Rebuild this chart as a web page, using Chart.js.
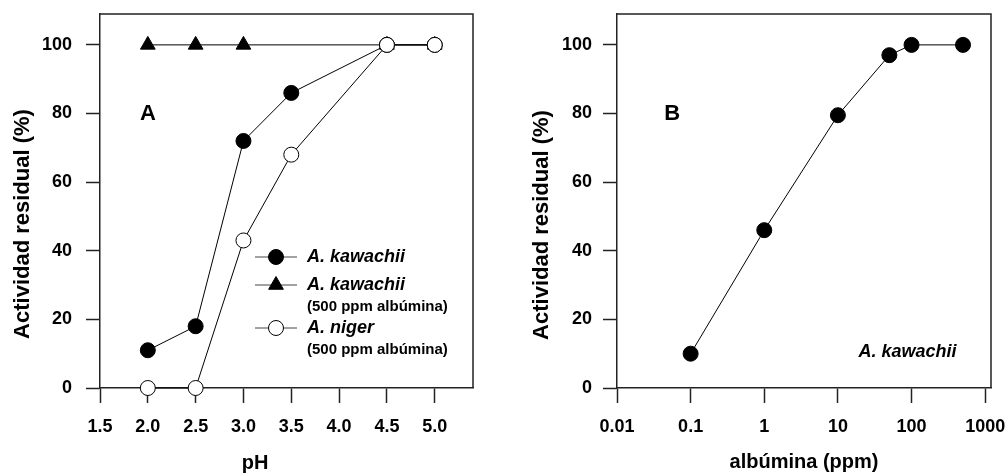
<!DOCTYPE html>
<html>
<head>
<meta charset="utf-8">
<script src="https://cdn.jsdelivr.net/npm/chart.js@4.4.0/dist/chart.umd.min.js"></script>
<style>
html, body { margin: 0; padding: 0; background: #fff; }
#panelA { position: absolute; left: 0; top: 0; width: 495px; height: 475px; }
#panelB { position: absolute; left: 500px; top: 0; width: 507px; height: 475px; }
</style>
</head>
<body>
<div id="panelA"><canvas id="graficoPH"></canvas></div>
<div id="panelB"><canvas id="graficoAlb"></canvas></div>
<script>
// ticks
const phTicks = [1.5, 2.0, 2.5, 3.0, 3.5, 4.0, 4.5, 5.0];
const albTicks = [0.01, 0.1, 1, 10, 100, 1000];
const actTicks = [0, 20, 40, 60, 80, 100];

// panel A: actividad residual vs pH
const phKawachii = [2.0, 2.5, 3.0, 3.5, 4.5, 5.0];
const actKawachii = [11, 18, 72, 86, 100, 100];
const phKawachiiAlb = [2.0, 2.5, 3.0, 4.5, 5.0];
const actKawachiiAlb = [100, 100, 100, 100, 100];
const phNiger = [2.0, 2.5, 3.0, 3.5, 4.5, 5.0];
const actNiger = [0, 0, 43, 68, 100, 100];

// panel B: actividad residual vs albúmina
const albumina = [0.1, 1, 10, 50, 100, 500];
const actAlbumina = [10, 46, 79.5, 97, 100, 100];

const FUENTE = "'Liberation Sans', Arial, sans-serif";
const NEGRO = '#000';
const EJE = '#222';

function puntos(xs, ys) {
    return xs.map((x, i) => ({ x: x, y: ys[i] }));
}

function serie(label, data, estilo, relleno, orden) {
    return {
        label: label,
        data: data,
        showLine: true,
        borderColor: NEGRO,
        borderWidth: 1,
        pointStyle: estilo,
        pointRadius: estilo === 'triangle' ? 8.5 : 7.5,
        pointHoverRadius: estilo === 'triangle' ? 8.5 : 7.5,
        pointBackgroundColor: relleno,
        pointBorderColor: NEGRO,
        pointBorderWidth: 1,
        clip: false,
        order: orden
    };
}

function ejeY(ancho, sep) {
    return {
        min: 0,
        max: 109,
        afterBuildTicks: s => { s.ticks = actTicks.map(v => ({ value: v })); },
        afterFit: s => { s.width = ancho; s.paddingTop = 0; s.paddingBottom = 0; },
        grid: { drawOnChartArea: false, drawTicks: true, tickLength: 14, tickColor: EJE, tickWidth: 1.5 },
        border: { color: EJE, width: 1.5 },
        ticks: { color: NEGRO, padding: sep, font: { family: FUENTE, size: 18, weight: 'bold' } }
    };
}

function ejeX(extra) {
    return Object.assign({
        afterFit: s => { s.height = 87; s.paddingLeft = 0; s.paddingRight = 0; },
        grid: { drawOnChartArea: false, drawTicks: true, tickLength: 15, tickColor: EJE, tickWidth: 1.5 },
        border: { color: EJE, width: 1.5 },
        ticks: { color: NEGRO, padding: 13, maxRotation: 0, font: { family: FUENTE, size: 18, weight: 'bold' } }
    }, extra);
}

// top and right frame lines
const marco = {
    id: 'marco',
    beforeDatasetsDraw(chart) {
        const a = chart.chartArea, ctx = chart.ctx;
        ctx.save();
        ctx.strokeStyle = EJE;
        ctx.lineWidth = 1.5;
        ctx.beginPath();
        ctx.moveTo(a.left, a.top);
        ctx.lineTo(a.right, a.top);
        ctx.lineTo(a.right, a.bottom);
        ctx.stroke();
        ctx.restore();
    }
};

function texto(ctx, t, x, y, tam, estilo, alinear, base) {
    ctx.font = estilo + ' ' + tam + 'px ' + FUENTE;
    ctx.textAlign = alinear || 'center';
    ctx.textBaseline = base || 'middle';
    ctx.fillStyle = NEGRO;
    ctx.fillText(t, x, y);
}

// axis titles, placed by hand
const titulos = {
    id: 'titulos',
    afterDraw(chart, args, opts) {
        const ctx = chart.ctx;
        ctx.save();
        texto(ctx, opts.x, opts.xPos[0], opts.xPos[1], 20, 'bold', 'center', 'alphabetic');
        ctx.translate(opts.yPos[0], opts.yPos[1]);
        ctx.rotate(-Math.PI / 2);
        texto(ctx, 'Actividad residual (%)', 0, 0, 22, 'bold', 'center', 'middle');
        ctx.restore();
    }
};

// panel letter + legend for panel A
const leyendaA = {
    id: 'leyendaA',
    afterDraw(chart) {
        const ctx = chart.ctx, sx = chart.scales.x, sy = chart.scales.y;
        ctx.save();
        texto(ctx, 'A', sx.getPixelForValue(2.0), sy.getPixelForValue(80), 22, 'bold');
        const x0 = 255, x1 = 297, xm = 276, xt = 307;
        const filas = [
            { y: 257, ds: 0, sub: null },
            { y: 285, ds: 1, sub: 307 },
            { y: 328, ds: 2, sub: 350 }
        ];
        filas.forEach(f => {
            const d = chart.data.datasets[f.ds];
            ctx.strokeStyle = '#444';
            ctx.lineWidth = 1;
            ctx.beginPath();
            ctx.moveTo(x0, f.y);
            ctx.lineTo(x1, f.y);
            ctx.stroke();
            ctx.fillStyle = d.pointBackgroundColor;
            ctx.strokeStyle = NEGRO;
            Chart.helpers.drawPoint(ctx, { pointStyle: d.pointStyle, radius: d.pointRadius, borderWidth: 1 }, xm, f.y);
            texto(ctx, d.label, xt, f.y, 18, 'italic bold', 'left');
            if (f.sub) texto(ctx, '(500 ppm albúmina)', xt, f.sub, 15, 'bold', 'left');
        });
        ctx.restore();
    }
};

const rotulosB = {
    id: 'rotulosB',
    afterDraw(chart) {
        const ctx = chart.ctx, sx = chart.scales.x, sy = chart.scales.y;
        ctx.save();
        texto(ctx, 'B', sx.getPixelForValue(0.056), sy.getPixelForValue(80), 22, 'bold');
        texto(ctx, 'A. kawachii', sx.getPixelForValue(88), sy.getPixelForValue(10.5), 18, 'italic bold');
        ctx.restore();
    }
};

new Chart(document.getElementById('graficoPH'), {
    type: 'scatter',
    data: {
        datasets: [
            serie('A. kawachii', puntos(phKawachii, actKawachii), 'circle', NEGRO, 1),
            serie('A. kawachii', puntos(phKawachiiAlb, actKawachiiAlb), 'triangle', NEGRO, 2),
            serie('A. niger', puntos(phNiger, actNiger), 'circle', '#fff', 0)
        ]
    },
    options: {
        responsive: true,
        maintainAspectRatio: false,
        animation: false,
        layout: { padding: { top: 14, right: 22, left: 0, bottom: 0 } },
        plugins: {
            legend: { display: false },
            tooltip: { enabled: false },
            titulos: { x: 'pH', xPos: [255, 469], yPos: [23, 224] }
        },
        scales: {
            x: ejeX({
                type: 'linear', min: 1.5, max: 5.4,
                afterBuildTicks: s => { s.ticks = phTicks.map(v => ({ value: v })); }
            }),
            y: ejeY(100, 14)
        }
    },
    plugins: [marco, titulos, leyendaA]
});

const ejeAlb = ejeX({
    type: 'logarithmic', min: 0.01, max: 1200,
    afterBuildTicks: s => { s.ticks = albTicks.map(v => ({ value: v })); }
});
ejeAlb.ticks.callback = v => String(v);

new Chart(document.getElementById('graficoAlb'), {
    type: 'scatter',
    data: {
        datasets: [
            serie('A. kawachii', puntos(albumina, actAlbumina), 'circle', NEGRO, 0)
        ]
    },
    options: {
        responsive: true,
        maintainAspectRatio: false,
        animation: false,
        layout: { padding: { top: 14, right: 16, left: 0, bottom: 0 } },
        plugins: {
            legend: { display: false },
            tooltip: { enabled: false },
            titulos: { x: 'albúmina (ppm)', xPos: [304, 468], yPos: [42, 225] }
        },
        scales: {
            x: ejeAlb,
            y: ejeY(117, 11)
        }
    },
    plugins: [marco, titulos, rotulosB]
});
</script>
</body>
</html>
